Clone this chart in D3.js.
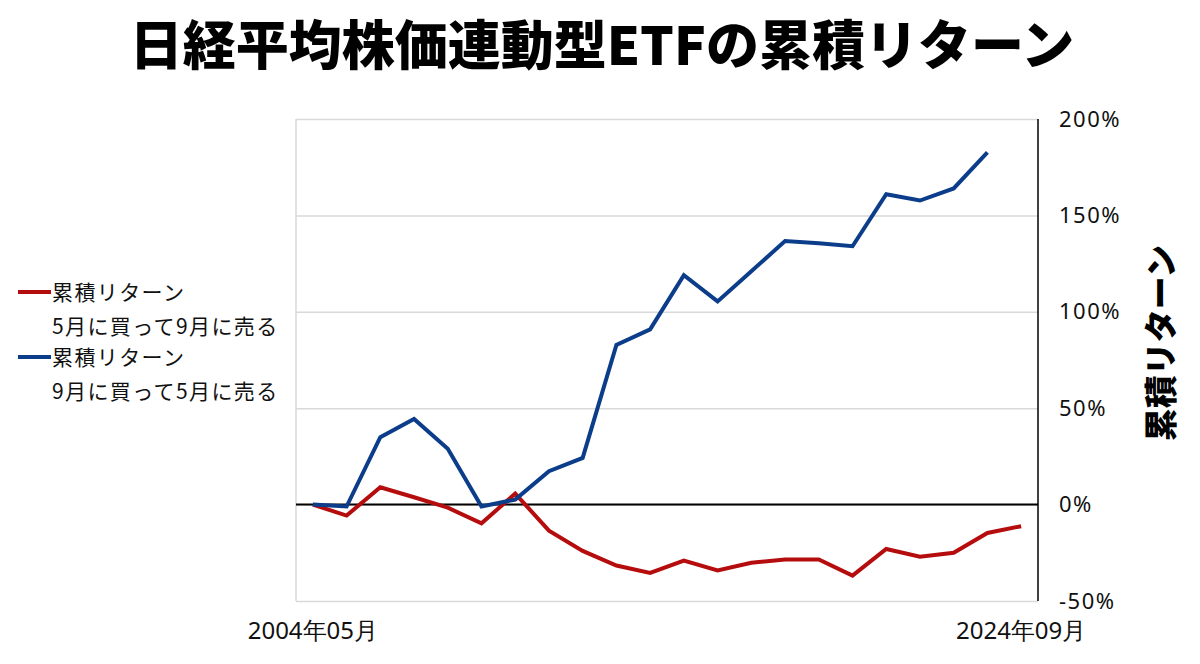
<!DOCTYPE html>
<html>
<head>
<meta charset="utf-8">
<script src="https://cdn.jsdelivr.net/npm/d3@7"></script>
<style>
  body { margin: 0; background: #fff; }
  svg { display: block; }
  .grid line { stroke: #d9d9d9; stroke-width: 1.5; }
  .grid path { display: none; }
  .axis-r path, .axis-r line { display: none; }
  .axis-r text { font-family: "Noto Sans", sans-serif; font-size: 22px; letter-spacing: 1.5px; fill: #111; }
  .axis-x text { font-family: "Noto Sans", sans-serif; font-size: 24px; fill: #111; }
  .axis-x path, .axis-x line { display: none; }
  .legend-text { font-family: "Noto Sans CJK JP", sans-serif; font-size: 21px; letter-spacing: 1.4px; fill: #111; }
</style>
</head>
<body>
<svg id="chart" width="1200" height="664"></svg>
<script>
// periods: start point, then one point per year
var periods = ["2004年05月", "2005年09月", "2006年09月", "2007年09月", "2008年09月", "2009年09月",
               "2010年09月", "2011年09月", "2012年09月", "2013年09月", "2014年09月", "2015年09月",
               "2016年09月", "2017年09月", "2018年09月", "2019年09月", "2020年09月", "2021年09月",
               "2022年09月", "2023年09月", "2024年05月", "2024年09月"];

// 5月に買って9月に売る (%)
var mayToSep = [0, -5.7, 9, 3.8, -1.6, -9.7, 5.7, -13.5, -24, -31.6, -35.4,
                -29, -34.2, -30.2, -28.5, -28.5, -36.8, -23, -27, -25, -14.7, -11.2];

// 9月に買って5月に売る (%)
var sepToMay = [0, -1, 35, 44.4, 29, -1, 2.6, 17.3, 24.2, 82.8, 90.9,
                119, 105.4, 121, 136.7, 135.5, 134, 161, 157.7, 164, 182.7];

var yTicks = [-50, 0, 50, 100, 150, 200];
var xTicks = ["2004年05月", "2024年09月"];

var series = [
  {key: "累積リターン", sub: "5月に買って9月に売る", color: "#b50d0d", values: mayToSep},
  {key: "累積リターン", sub: "9月に買って5月に売る", color: "#0b3d8a", values: sepToMay}
];

var svg = d3.select("#chart"),
    margin = {top: 119, right: 162, bottom: 63, left: 296},
    width = 1200 - margin.left - margin.right,
    height = 664 - margin.top - margin.bottom;

svg.append("text")
    .attr("x", 602)
    .attr("y", 65)
    .attr("text-anchor", "middle")
    .style("font-family", "'Noto Sans CJK JP', sans-serif")
    .style("font-weight", "900")
    .style("font-size", "53px")
    .text("日経平均株価連動型ETFの累積リターン");

var g = svg.append("g").attr("transform", "translate(" + margin.left + "," + margin.top + ")");

var x = d3.scaleBand().domain(periods).range([0, width]);
var y = d3.scaleLinear().domain([-50, 200]).range([height, 0]);

g.append("g")
    .attr("class", "grid")
    .call(d3.axisLeft(y).tickValues(yTicks).tickSize(-width).tickFormat(""));

g.append("line")
    .attr("x1", 0).attr("x2", 0)
    .attr("y1", 0).attr("y2", height)
    .style("stroke", "#d9d9d9")
    .style("stroke-width", 1.5);

// zero line
g.append("line")
    .attr("x1", 0).attr("x2", width)
    .attr("y1", y(0)).attr("y2", y(0))
    .style("stroke", "#000")
    .style("stroke-width", 2);

// right axis line
g.append("line")
    .attr("x1", width).attr("x2", width)
    .attr("y1", 0).attr("y2", height)
    .style("stroke", "#000")
    .style("stroke-width", 1.5);

g.append("g")
    .attr("class", "axis-r")
    .attr("transform", "translate(" + width + ",0)")
    .call(d3.axisRight(y).tickValues(yTicks).tickSize(0).tickPadding(21)
        .tickFormat(function(d) { return d + "%"; }));

g.append("g")
    .attr("class", "axis-x")
    .attr("transform", "translate(0," + height + ")")
    .call(d3.axisBottom(x).tickValues(xTicks).tickSize(0).tickPadding(21));

svg.append("text")
    .attr("transform", "translate(1173,343) rotate(-90)")
    .attr("text-anchor", "middle")
    .style("font-family", "'Noto Sans CJK JP', sans-serif")
    .style("font-weight", "900")
    .style("font-size", "33px")
    .text("累積リターン");

var line = d3.line()
    .x(function(d, i) { return x(periods[i]) + x.bandwidth() / 2; })
    .y(function(d) { return y(d); });

g.selectAll(".series")
    .data(series)
  .enter().append("path")
    .attr("class", "series")
    .attr("d", function(d) { return line(d.values); })
    .style("fill", "none")
    .style("stroke", function(d) { return d.color; })
    .style("stroke-width", 4)
    .style("stroke-linejoin", "miter");

// legend
var legend = svg.selectAll(".legend")
    .data(series)
  .enter().append("g")
    .attr("class", "legend")
    .attr("transform", function(d, i) { return "translate(18," + (292 + i * 65) + ")"; });

legend.append("line")
    .attr("x1", 0).attr("x2", 33)
    .style("stroke", function(d) { return d.color; })
    .style("stroke-width", 4);

legend.append("text")
    .attr("class", "legend-text")
    .attr("x", 34)
    .attr("dy", "0.36em")
    .text(function(d) { return d.key; });

legend.append("text")
    .attr("class", "legend-text")
    .attr("x", 34)
    .attr("y", 34)
    .attr("dy", "0.36em")
    .text(function(d) { return d.sub; });
</script>
</body>
</html>
